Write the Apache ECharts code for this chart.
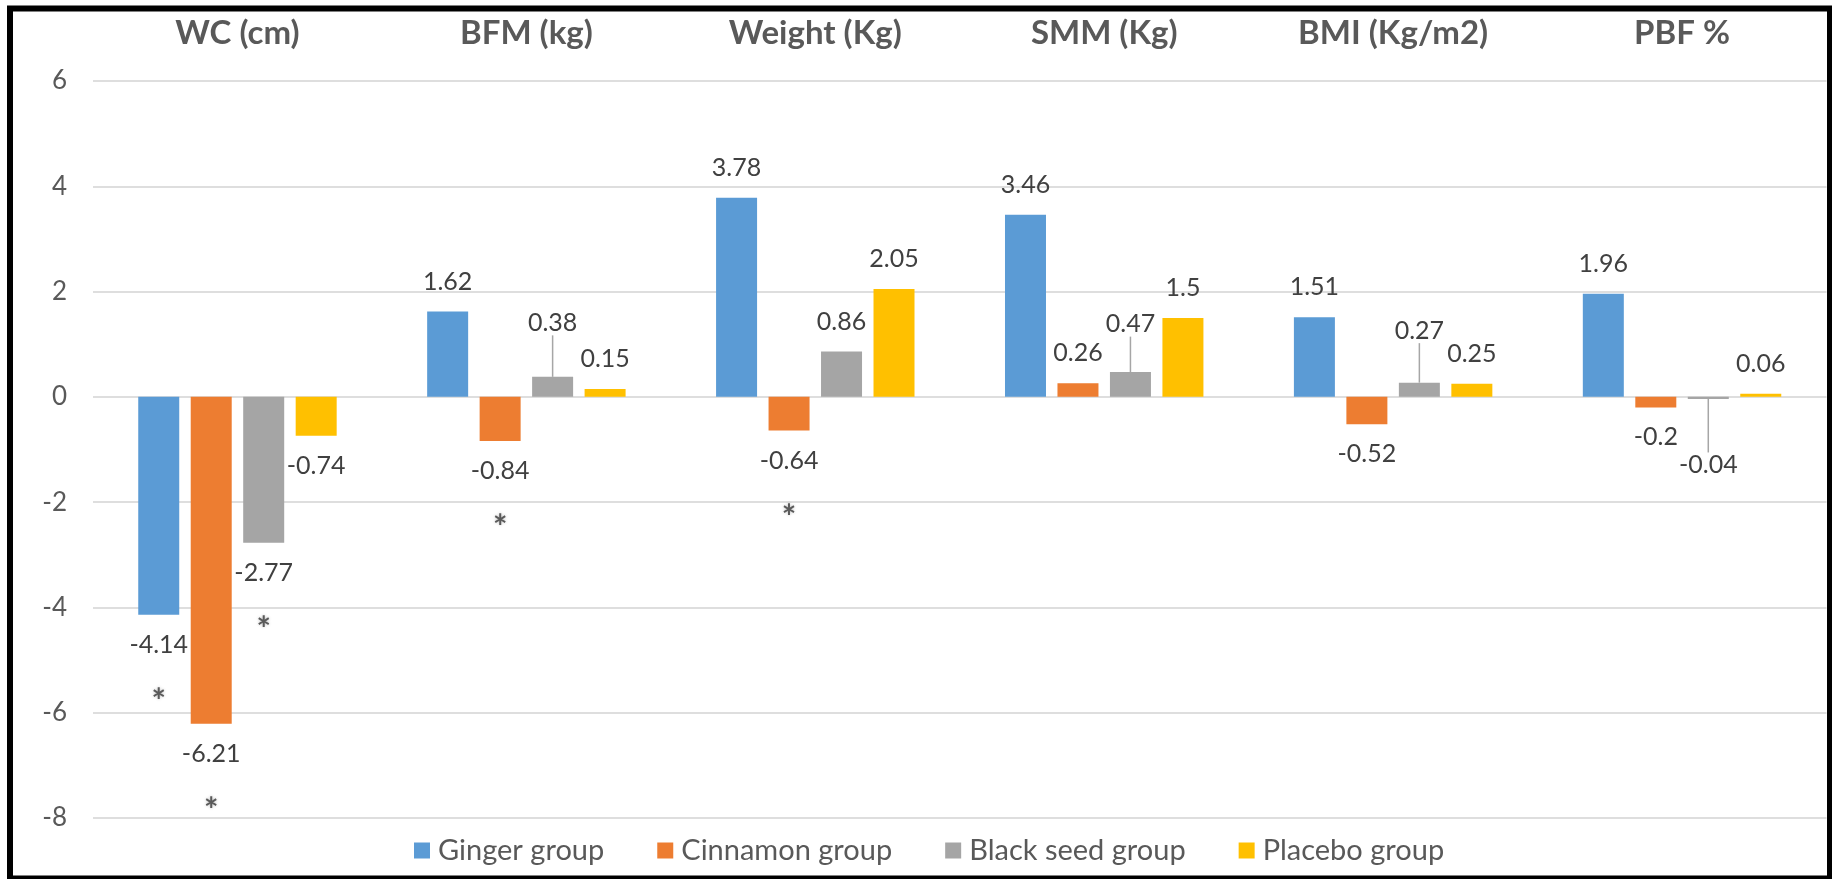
<!DOCTYPE html>
<html>
<head>
<meta charset="utf-8">
<script src="https://cdn.jsdelivr.net/npm/echarts@6/dist/echarts.min.js"></script>
<style>
html,body{margin:0;padding:0;background:#fff;}
#chart{width:1832px;height:879px;}
</style>
</head>
<body>
<div id="chart"></div>
<script>
// ---- data ----
var categories = ['WC (cm)', 'BFM (kg)', 'Weight (Kg)', 'SMM (Kg)', 'BMI (Kg/m2)', 'PBF %'];
var seriesNames = ['Ginger group', 'Cinnamon group', 'Black seed group', 'Placebo group'];
var gingerValues = [-4.14, 1.62, 3.78, 3.46, 1.51, 1.96];
var cinnamonValues = [-6.21, -0.84, -0.64, 0.26, -0.52, -0.2];
var blackSeedValues = [-2.77, 0.38, 0.86, 0.47, 0.27, -0.04];
var placeboValues = [-0.74, 0.15, 2.05, 1.5, 0.25, 0.06];
// significance markers (*)
var gingerSig = [1, 0, 0, 0, 0, 0];
var cinnamonSig = [1, 1, 1, 0, 0, 0];
var blackSeedSig = [1, 0, 0, 0, 0, 0];
var placeboSig = [0, 0, 0, 0, 0, 0];
var yTicks = [-8, -6, -4, -2, 0, 2, 4, 6];

// ---- styling / layout (not data) ----
var colors = ['#5B9BD5', '#ED7D31', '#A5A5A5', '#FFC000'];
var blackSeedLabelShift = [0, -24, 0, -18, -22, 36];
var FONT = 'Lato';

function buildData(values, sig, shifts) {
  return values.map(function (v, i) {
    var moved = shifts && shifts[i] !== 0;
    return {
      value: v,
      sig: sig[i],
      label: { position: v < 0 ? 'bottom' : 'top' },
      labelLine: { show: !!moved }
    };
  });
}

function makeSeries(name, values, sig, color, shifts) {
  var s = {
    name: name,
    type: 'bar',
    barWidth: 41,
    barGap: '28%',
    itemStyle: { color: color },
    data: buildData(values, sig, shifts),
    label: {
      show: true,
      distance: 16,
      fontFamily: FONT,
      formatter: function (p) {
        var t = '{v|' + p.value + '}';
        if (p.data.sig) t += '\n{s|*}';
        return t;
      },
      rich: {
        v: { fontSize: 25, fontFamily: FONT, color: '#404040', lineHeight: 28 },
        s: { fontSize: 34, fontFamily: FONT, fontWeight: 'bold', color: '#5A5A5A', lineHeight: 86,
             textShadowColor: 'rgba(0,0,0,0.25)', textShadowBlur: 3 }
      }
    }
  };
  if (shifts) {
    s.labelLayout = function (params) {
      return { dy: shifts[params.dataIndex] };
    };
    s.labelLine = { show: false, lineStyle: { color: '#A6A6A6', width: 1.5 } };
  }
  return s;
}

var chart = echarts.init(document.getElementById('chart'));
chart.setOption({
  animation: false,
  textStyle: { fontFamily: FONT },
  color: colors,
  grid: { left: 93, right: 5.5, top: 81, bottom: 61, containLabel: false },
  legend: {
    data: seriesNames,
    left: 409,
    top: 831,
    icon: 'rect',
    itemWidth: 16,
    itemHeight: 16,
    itemGap: 53,
    textStyle: { fontSize: 29, color: '#595959', fontFamily: FONT, padding: [0, 0, 0, 3] }
  },
  xAxis: {
    type: 'category',
    position: 'top',
    data: categories,
    axisLine: { show: false },
    axisTick: { show: false },
    axisLabel: { fontSize: 33, fontWeight: 'bold', color: '#595959', fontFamily: FONT, margin: 31 },
    splitLine: { show: false }
  },
  yAxis: {
    type: 'value',
    min: yTicks[0],
    max: yTicks[yTicks.length - 1],
    interval: 2,
    axisLine: { show: false },
    axisTick: { show: false },
    axisLabel: { fontSize: 26, color: '#595959', fontFamily: FONT, margin: 26 },
    splitLine: { lineStyle: { color: '#DEDEDE', width: 2 } }
  },
  series: [
    makeSeries(seriesNames[0], gingerValues, gingerSig, colors[0]),
    makeSeries(seriesNames[1], cinnamonValues, cinnamonSig, colors[1]),
    makeSeries(seriesNames[2], blackSeedValues, blackSeedSig, colors[2], blackSeedLabelShift),
    makeSeries(seriesNames[3], placeboValues, placeboSig, colors[3])
  ],
  graphic: [{
    type: 'rect',
    z: 100,
    shape: { x: 10, y: 8.5, width: 1820, height: 870 },
    style: { fill: null, stroke: '#000', lineWidth: 6 }
  }]
});
</script>
</body>
</html>
